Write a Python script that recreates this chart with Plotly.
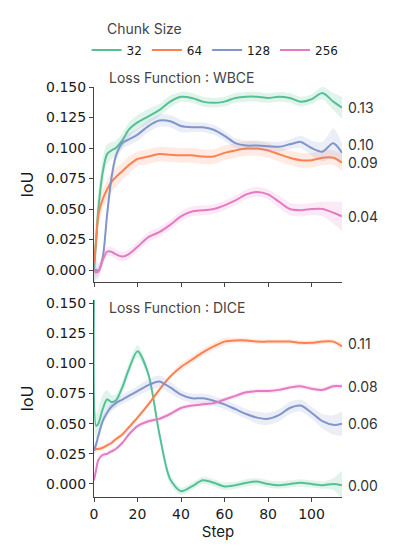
import plotly.graph_objects as go
from plotly.subplots import make_subplots

# steps shared by every curve
steps = [0, 1, 2, 4, 6, 8, 10, 13, 16, 20, 25, 30, 35, 40, 45, 50, 55,
         60, 65, 70, 75, 80, 85, 90, 95, 100, 105, 110, 114]

chunk_sizes = ['32', '64', '128', '256']

# Loss Function : WBCE
wbce_32 = [0.000, 0.025, 0.050, 0.080, 0.095, 0.098, 0.100, 0.106, 0.115, 0.121, 0.126, 0.131, 0.138, 0.142, 0.141,
           0.138, 0.137, 0.138, 0.141, 0.142, 0.142, 0.141, 0.142, 0.141, 0.138, 0.140, 0.145, 0.138, 0.133]
wbce_64 = [0.005, 0.025, 0.045, 0.058, 0.066, 0.072, 0.076, 0.081, 0.086, 0.091, 0.093, 0.095, 0.0945, 0.094, 0.094,
           0.093, 0.093, 0.096, 0.098, 0.0995, 0.0995, 0.098, 0.095, 0.092, 0.090, 0.090, 0.092, 0.092, 0.088]
wbce_128 = [0.000, 0.000, -0.001, 0.010, 0.045, 0.075, 0.093, 0.104, 0.107, 0.111, 0.118, 0.1225, 0.122, 0.118, 0.117,
            0.117, 0.115, 0.110, 0.104, 0.102, 0.102, 0.1015, 0.101, 0.103, 0.105, 0.100, 0.097, 0.104, 0.096]
wbce_256 = [0.000, -0.002, -0.001, 0.008, 0.015, 0.015, 0.013, 0.011, 0.013, 0.019, 0.027, 0.031, 0.037, 0.044, 0.048,
            0.049, 0.050, 0.053, 0.057, 0.062, 0.064, 0.062, 0.056, 0.050, 0.049, 0.050, 0.050, 0.047, 0.044]

# half width of the shaded band
wbce_32_ci = [0.020, 0.020, 0.015, 0.012, 0.008, 0.007, 0.006, 0.006, 0.006, 0.006, 0.006, 0.005, 0.005, 0.004, 0.004,
              0.004, 0.004, 0.004, 0.004, 0.004, 0.004, 0.004, 0.004, 0.004, 0.004, 0.004, 0.005, 0.007, 0.009]
wbce_64_ci = [0.010, 0.010, 0.009, 0.008, 0.008, 0.008, 0.008, 0.007, 0.007, 0.006, 0.006, 0.006, 0.006, 0.006, 0.006,
              0.006, 0.006, 0.006, 0.006, 0.006, 0.006, 0.006, 0.006, 0.006, 0.006, 0.006, 0.006, 0.006, 0.007]
wbce_128_ci = [0.010, 0.008, 0.006, 0.006, 0.006, 0.006, 0.005, 0.005, 0.005, 0.005, 0.005, 0.005, 0.005, 0.005, 0.004,
               0.004, 0.004, 0.004, 0.004, 0.004, 0.004, 0.004, 0.004, 0.004, 0.005, 0.006, 0.008, 0.012, 0.008]
wbce_256_ci = [0.004, 0.004, 0.004, 0.004, 0.004, 0.004, 0.004, 0.004, 0.004, 0.004, 0.004, 0.004, 0.004, 0.004, 0.004,
               0.004, 0.004, 0.004, 0.004, 0.004, 0.004, 0.004, 0.005, 0.005, 0.005, 0.005, 0.006, 0.009, 0.012]

# Loss Function : DICE
dice_32 = [0.160, 0.048, 0.050, 0.062, 0.070, 0.068, 0.069, 0.080, 0.095, 0.110, 0.091, 0.042, 0.004, -0.006, -0.002,
           0.003, 0.001, -0.002, -0.001, 0.001, 0.002, 0.000, -0.001, 0.000, 0.001, 0.000, -0.001, 0.000, -0.001]
dice_64 = [0.028, 0.029, 0.029, 0.030, 0.032, 0.034, 0.037, 0.041, 0.047, 0.055, 0.066, 0.078, 0.089, 0.097, 0.103,
           0.109, 0.114, 0.118, 0.119, 0.119, 0.118, 0.118, 0.118, 0.118, 0.117, 0.117, 0.118, 0.118, 0.114]
dice_128 = [0.028, 0.033, 0.040, 0.052, 0.059, 0.064, 0.067, 0.070, 0.073, 0.077, 0.082, 0.085, 0.080, 0.074, 0.071,
            0.071, 0.069, 0.066, 0.062, 0.058, 0.055, 0.054, 0.057, 0.063, 0.065, 0.059, 0.052, 0.049, 0.050]
dice_256 = [0.003, 0.012, 0.020, 0.024, 0.025, 0.027, 0.029, 0.034, 0.041, 0.048, 0.052, 0.054, 0.058, 0.063, 0.065,
            0.066, 0.067, 0.070, 0.073, 0.076, 0.077, 0.077, 0.078, 0.080, 0.081, 0.079, 0.078, 0.081, 0.081]

dice_32_ci = [0.010, 0.010, 0.012, 0.012, 0.008, 0.006, 0.005, 0.005, 0.005, 0.005, 0.004, 0.004, 0.004, 0.003, 0.003,
              0.003, 0.003, 0.003, 0.003, 0.003, 0.003, 0.003, 0.003, 0.003, 0.003, 0.003, 0.003, 0.005, 0.012]
dice_64_ci = [0.003, 0.003, 0.002, 0.002, 0.002, 0.002, 0.002, 0.002, 0.002, 0.002, 0.002, 0.002, 0.002, 0.003, 0.003,
              0.003, 0.003, 0.003, 0.002, 0.002, 0.002, 0.002, 0.002, 0.002, 0.002, 0.002, 0.002, 0.002, 0.003]
dice_128_ci = [0.004, 0.004, 0.004, 0.004, 0.004, 0.004, 0.004, 0.004, 0.004, 0.004, 0.005, 0.005, 0.005, 0.004, 0.004,
               0.004, 0.004, 0.004, 0.004, 0.004, 0.005, 0.005, 0.005, 0.005, 0.005, 0.005, 0.006, 0.008, 0.010]
dice_256_ci = [0.005, 0.004, 0.003, 0.002, 0.002, 0.002, 0.002, 0.002, 0.002, 0.002, 0.002, 0.002, 0.002, 0.002, 0.002,
               0.002, 0.002, 0.002, 0.002, 0.002, 0.002, 0.002, 0.002, 0.002, 0.002, 0.002, 0.002, 0.002, 0.002]

# labels written at the end of each curve
wbce_end_labels = ['0.13', '0.09', '0.10', '0.04']
dice_end_labels = ['0.00', '0.11', '0.06', '0.08']

colors = ['#55c095', '#fc8150', '#8095cb', '#e47bc2']
bands = ['rgba(85,192,149,0.18)', 'rgba(252,129,80,0.16)', 'rgba(128,149,203,0.16)', 'rgba(228,123,194,0.16)']

panels = [
    ('Loss Function : WBCE', [wbce_32, wbce_64, wbce_128, wbce_256],
     [wbce_32_ci, wbce_64_ci, wbce_128_ci, wbce_256_ci], wbce_end_labels),
    ('Loss Function : DICE', [dice_32, dice_64, dice_128, dice_256],
     [dice_32_ci, dice_64_ci, dice_128_ci, dice_256_ci], dice_end_labels),
]

tick_font = 'DejaVu Sans, sans-serif'
text_font = 'Inter, Open Sans, sans-serif'

fig = make_subplots(rows=2, cols=1, shared_xaxes=True, vertical_spacing=0.04)

for row, (title, series, cis, labels) in enumerate(panels, start=1):
    for i, (ys, ci) in enumerate(zip(series, cis)):
        upper = [y + c for y, c in zip(ys, ci)]
        lower = [y - c for y, c in zip(ys, ci)]
        fig.add_trace(go.Scatter(x=steps, y=upper, mode='lines', line=dict(width=0, shape='spline', smoothing=0.8),
                                 showlegend=False, hoverinfo='skip'), row=row, col=1)
        fig.add_trace(go.Scatter(x=steps, y=lower, mode='lines', line=dict(width=0, shape='spline', smoothing=0.8),
                                 fill='tonexty', fillcolor=bands[i], showlegend=False, hoverinfo='skip'),
                      row=row, col=1)
        fig.add_trace(go.Scatter(x=steps, y=ys, mode='lines', name=chunk_sizes[i],
                                 line=dict(color=colors[i], width=2, shape='spline', smoothing=0.8),
                                 showlegend=(row == 1), legendgroup=chunk_sizes[i]), row=row, col=1)
        yshift = 0
        if row == 1 and i == 2:
            yshift = 8
        if row == 2 and i == 1:
            yshift = 3
        fig.add_annotation(x=114, y=ys[-1], text=labels[i], showarrow=False, xanchor='left', xshift=4,
                           yshift=yshift, font=dict(size=14, color='#333333', family=text_font), row=row, col=1)

fig.add_annotation(xref='paper', yref='paper', x=0.052, y=1.022, text=panels[0][0],
                   showarrow=False, xanchor='left', yanchor='middle', font=dict(size=14, color='#444444', family=text_font))
fig.add_annotation(xref='paper', yref='paper', x=0.052, y=0.461, text=panels[1][0],
                   showarrow=False, xanchor='left', yanchor='middle', font=dict(size=14, color='#444444', family=text_font))
fig.add_annotation(xref='paper', yref='paper', x=0.045, y=1.1415, text='Chunk Size',
                   showarrow=False, xanchor='left', yanchor='middle', font=dict(size=14, color='#444444', family=text_font))

axis_style = dict(showgrid=False, zeroline=False, showline=True, linecolor='#444444', linewidth=1,
                  ticks='outside', ticklen=4, tickcolor='#444444',
                  tickfont=dict(size=14, color='#1a1a1a', family=tick_font))

fig.update_xaxes(range=[0, 114], tickvals=[0, 20, 40, 60, 80, 100], **axis_style)
fig.update_xaxes(title=dict(text='Step', font=dict(size=15, color='#1a1a1a', family=text_font), standoff=2), row=2, col=1)
fig.update_yaxes(tickvals=[0, 0.025, 0.05, 0.075, 0.1, 0.125, 0.15], tickformat='.3f',
                 title=dict(text='IoU', font=dict(size=16, color='#1a1a1a', family=text_font), standoff=8), **axis_style)
fig.update_yaxes(range=[-0.0098, 0.150], domain=[0.5244, 1.0], row=1, col=1)
fig.update_yaxes(range=[-0.0108, 0.1525], domain=[0.0, 0.4805], row=2, col=1)

fig.update_layout(
    width=400, height=550,
    margin=dict(l=86, r=66, t=79, b=61, autoexpand=False),
    plot_bgcolor='white', paper_bgcolor='white',
    legend=dict(orientation='h', x=-0.03, y=1.09, xanchor='left', yanchor='middle',
                font=dict(size=12, color='#1a1a1a', family=tick_font), traceorder='normal'),
    showlegend=True,
)

fig.write_html("out.html")
